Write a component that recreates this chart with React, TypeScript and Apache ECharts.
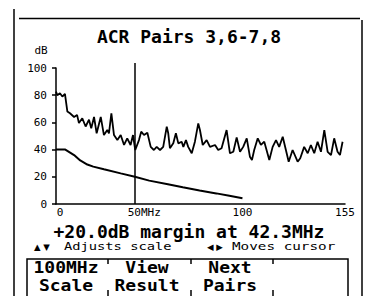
import React, { useEffect, useRef } from "react";
import * as echarts from "echarts";

const title = "ACR Pairs 3,6-7,8";
const yUnit = "dB";
const marginText = "+20.0dB margin at 42.3MHz";
const cursorMHz = 42.3;
const xTickValues = [0, 50, 100, 155];
const xTickLabels = ["0", "50MHz", "100", "155"];
const buttonLine1 = ["100MHz", "View", "Next"];
const buttonLine2 = ["Scale", "Result", "Pairs"];

const acrFreq = [
  0, 0.7, 2.1, 3.4, 4.8, 6.1, 7.5, 9.7, 11.3, 12.3, 14.1, 15.9, 17.7, 18.9, 20.4, 21.8, 24, 25.7, 27.5, 28.4,
  29.7, 31.1, 32.9, 34.7, 36.5, 38.2, 40, 41.3, 42.5, 44.5, 45.7, 47.2, 49, 50.8, 52.5, 54, 55.8, 57.5, 59.4,
  60.2, 61.1, 62.9, 64.3, 65.6, 67.4, 68.3, 69.7, 70.9, 72.8, 74.5, 76.3, 77.2, 78.7, 80.8, 82.6, 85.3, 87,
  88.8, 91.5, 93.3, 95.1, 96.9, 98.7, 100.4, 102.3, 104, 105.1, 106.3, 108.2, 109.9, 111.7, 114.4, 116.2, 118,
  119.7, 121.6, 123.3, 124.8, 126.9, 129.6, 131, 133.1, 135, 136.7, 138.5, 140.3, 142.1, 143.9, 145.7, 147.5,
  149.2, 151, 152.3, 153.7,
];
const acrValues = [
  82.6, 80, 81.4, 79, 81, 68, 66.7, 64, 65.5, 59.5, 63, 57, 62, 55.6, 64, 52, 64, 50.7, 54.4, 52,
  66.7, 50.7, 47, 50.7, 43.4, 48.3, 43.4, 50.7, 39.7, 47, 53.2, 50.7, 52.4, 42, 39.7, 42, 39.7, 42, 56.9,
  52, 41, 44.6, 52, 44.6, 45.8, 42, 47, 42, 37.3, 45.8, 59.3, 54.4, 43.4, 47, 42, 43.4, 39.7,
  41, 54.4, 37.3, 38.4, 49, 38.4, 42, 48.3, 34.8, 32.4, 39.7, 48.3, 43.4, 45.8, 32.4, 42, 47,
  42, 49.5, 39.7, 31.1, 39.7, 31.1, 33.6, 42, 37.3, 43.4, 37.3, 45.8, 38.4, 54.4, 38.4, 36,
  48.3, 38.4, 36, 45.8,
];
const limitFreq = [0, 5, 9.7, 13, 16.8, 20, 25.7, 34.7, 42.3, 50, 60, 68, 77, 86, 93, 100];
const limitValues = [40, 40, 36, 32, 29, 27.5, 25.5, 22.5, 20, 17.2, 14.5, 12.3, 10, 7.8, 6, 4.2];

const MONO = "'DejaVu Sans Mono', monospace";

export default function App() {
  const ref = useRef<HTMLDivElement>(null);
  useEffect(() => {
    if (!ref.current) return;
    const chart = echarts.init(ref.current, undefined, { renderer: "svg" });
    const acrData = acrFreq.map((f, i) => [f, acrValues[i]]);
    const limitData = limitFreq.map((f, i) => [f, limitValues[i]]);
    const bigFont = { fontFamily: MONO, fontWeight: "bold" as const, fontSize: 18, fill: "#000" };
    const btnFont = { fontFamily: MONO, fontWeight: "bold" as const, fontSize: 15, fill: "#000" };
    const colCenters = [66, 147, 230];
    const graphics: any[] = [
      { type: "line", shape: { x1: 14, y1: 9, x2: 14, y2: 300 }, style: { stroke: "#000", lineWidth: 1.5 } },
      { type: "line", shape: { x1: 19, y1: 18.5, x2: 360, y2: 18.5 }, style: { stroke: "#000", lineWidth: 1.5 } },
      { type: "line", shape: { x1: 362, y1: 20, x2: 362, y2: 300 }, style: { stroke: "#000", lineWidth: 1.5 } },
      { type: "line", shape: { x1: 135, y1: 63, x2: 135, y2: 68 }, style: { stroke: "#000", lineWidth: 1.5 } },
      { type: "text", x: 189, y: 36, style: { ...bigFont, text: title, textAlign: "center", textVerticalAlign: "middle" } },
      { type: "text", x: 41, y: 50, style: { fontFamily: MONO, fontSize: 11, fill: "#000", text: yUnit, textAlign: "center", textVerticalAlign: "middle" } },
      { type: "text", x: 189, y: 231, style: { ...bigFont, text: marginText, textAlign: "center", textVerticalAlign: "middle" } },
      { type: "text", x: 34, y: 247, style: { fontFamily: "'DejaVu Sans', sans-serif", fontSize: 8.5, fill: "#000", text: "▲ ▼", textAlign: "left", textVerticalAlign: "middle" } },
      { type: "text", x: 64, y: 246, scaleX: 1.25, style: { fontFamily: MONO, fontSize: 11, fill: "#000", text: "Adjusts scale", textAlign: "left", textVerticalAlign: "middle" } },
      { type: "text", x: 207, y: 247, style: { fontFamily: "'DejaVu Sans', sans-serif", fontSize: 8.5, fill: "#000", text: "◀ ▶", textAlign: "left", textVerticalAlign: "middle" } },
      { type: "text", x: 232, y: 246, scaleX: 1.3, style: { fontFamily: MONO, fontSize: 11, fill: "#000", text: "Moves cursor", textAlign: "left", textVerticalAlign: "middle" } },
      { type: "rect", shape: { x: 27, y: 259, width: 321, height: 60 }, style: { stroke: "#000", lineWidth: 1.5, fill: "none" } },
    ];
    [108, 191, 273].forEach((x) => {
      graphics.push({ type: "line", shape: { x1: x, y1: 259, x2: x, y2: 264 }, style: { stroke: "#000", lineWidth: 1.5 } });
      graphics.push({ type: "line", shape: { x1: x, y1: 290, x2: x, y2: 296 }, style: { stroke: "#000", lineWidth: 1.5 } });
    });
    buttonLine1.forEach((t, i) => {
      graphics.push({ type: "text", x: colCenters[i], y: 268, scaleX: 1.2, style: { ...btnFont, text: t, textAlign: "center", textVerticalAlign: "middle" } });
    });
    buttonLine2.forEach((t, i) => {
      graphics.push({ type: "text", x: colCenters[i], y: 286, scaleX: 1.2, style: { ...btnFont, text: t, textAlign: "center", textVerticalAlign: "middle" } });
    });

    chart.setOption({
      animation: false,
      backgroundColor: "#fff",
      grid: { left: 56, right: 23, top: 68, bottom: 92, containLabel: false },
      xAxis: {
        type: "value",
        min: 0,
        max: 155,
        interval: 5,
        axisLine: { show: true, lineStyle: { color: "#000", width: 1.5 } },
        axisTick: { show: false },
        splitLine: { show: false },
        axisLabel: {
          color: "#000",
          fontFamily: MONO,
          fontSize: 11,
          margin: 3,
          showMinLabel: true,
          showMaxLabel: true,
          rich: {
            l: { fontFamily: MONO, fontSize: 11, color: "#000", padding: [0, 0, 0, 8] },
            m: { fontFamily: MONO, fontSize: 11, color: "#000", padding: [0, 10, 0, 0] },
            n: { fontFamily: MONO, fontSize: 11, color: "#000" },
          },
          formatter: (v: number) => {
            const idx = xTickValues.findIndex((t) => Math.abs(v - t) < 0.01);
            if (idx < 0) return "";
            const key = idx === 0 ? "l" : idx === 1 ? "m" : "n";
            return `{${key}|${xTickLabels[idx]}}`;
          },
        },
      },
      yAxis: {
        type: "value",
        min: 0,
        max: 100,
        interval: 20,
        axisLine: { show: true, lineStyle: { color: "#000", width: 1.5 } },
        axisTick: { show: true, length: 4, lineStyle: { color: "#000", width: 1.5 } },
        splitLine: { show: false },
        axisLabel: { color: "#000", fontFamily: MONO, fontSize: 11, margin: 9 },
      },
      series: [
        {
          type: "line",
          name: "ACR",
          data: acrData,
          symbol: "none",
          lineStyle: { color: "#000", width: 1.8 },
          markLine: {
            silent: true,
            symbol: "none",
            label: { show: false },
            lineStyle: { color: "#000", width: 1.5, type: "solid" },
            data: [{ xAxis: cursorMHz }],
          },
        },
        {
          type: "line",
          name: "Limit",
          data: limitData,
          symbol: "none",
          lineStyle: { color: "#000", width: 2 },
        },
      ],
      graphic: graphics,
    });
    return () => chart.dispose();
  }, []);
  return <div ref={ref} style={{ width: 368, height: 296, position: "absolute", left: 0, top: 0 }} />;
}
